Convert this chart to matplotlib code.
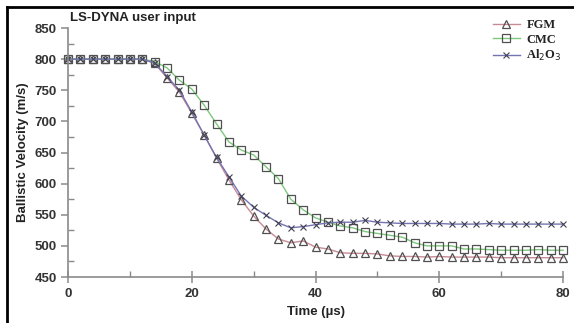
import matplotlib
matplotlib.use('Agg')
import matplotlib.pyplot as plt
from matplotlib.lines import Line2D
from matplotlib.ticker import MultipleLocator

# time in microseconds, one sample every 2 us
time_us = list(range(0, 82, 2))

fgm = [800, 800, 800, 800, 800, 800, 800, 793, 770, 747, 713, 678, 641,
       606, 574, 548, 527, 511, 505, 508, 498, 495, 489, 488, 488, 487,
       484, 483, 483, 482, 483, 482, 482, 482, 482, 481, 481, 481, 481, 481, 481]
cmc = [800, 800, 800, 800, 800, 800, 800, 796, 786, 766, 752, 726, 696,
       667, 654, 646, 627, 608, 575, 558, 545, 538, 532, 529, 523, 520,
       517, 514, 505, 500, 500, 500, 495, 495, 494, 493, 493, 493, 494, 493, 493]
al2o3 = [800, 800, 800, 800, 800, 800, 800, 794, 772, 750, 715, 678, 642,
         611, 580, 562, 549, 537, 529, 531, 534, 537, 538, 538, 541, 538,
         537, 536, 536, 536, 536, 535, 535, 535, 536, 535, 535, 535, 535, 535, 535]

series_names = ['FGM', 'CMC', 'Al$_2$O$_3$']

plt.rcParams['font.family'] = ['Liberation Sans', 'DejaVu Sans']

fig = plt.figure(figsize=(5.74, 3.23), dpi=100)
ax = fig.add_axes([0.1185, 0.1424, 0.8625, 0.7709])

edge = '#505050'
styles = [
    dict(color='#c88a94', lw=1.0, marker='^', ms=6, mfc='none', mec=edge, mew=0.9),
    dict(color='#7cc87c', lw=1.0, marker='s', ms=6, mfc='none', mec=edge, mew=0.9),
    dict(color='#7474b4', lw=1.0, marker='x', ms=4.5, mec='#404050', mew=0.8),
]
for vals, st in zip([fgm, cmc, al2o3], styles):
    ax.plot(time_us, vals, clip_on=False, **st)

ax.set_xlim(0, 80)
ax.set_ylim(450, 850)
ax.xaxis.set_major_locator(MultipleLocator(20))
ax.xaxis.set_minor_locator(MultipleLocator(10))
ax.yaxis.set_major_locator(MultipleLocator(50))
ax.yaxis.set_minor_locator(MultipleLocator(25))

for s in ['top', 'right']:
    ax.spines[s].set_visible(False)
for s in ['left', 'bottom']:
    ax.spines[s].set_color('#8a8a8a')
    ax.spines[s].set_linewidth(1.2)

ax.tick_params(axis='x', which='major', direction='inout', length=8,
               color='#8a8a8a', width=1.1, pad=4)
ax.tick_params(axis='x', which='minor', direction='in', length=4,
               color='#8a8a8a', width=1.0)
ax.tick_params(axis='y', which='major', direction='out', length=5,
               color='#8a8a8a', width=1.1, pad=3)
ax.tick_params(axis='y', which='minor', direction='in', length=4,
               color='#8a8a8a', width=1.0)
for lab in ax.get_xticklabels() + ax.get_yticklabels():
    lab.set_fontweight('bold')
    lab.set_fontsize(9.5)
    lab.set_color('#333333')

ax.set_xlabel('Time (µs)', fontsize=9.5, fontweight='bold', color='#222222',
              labelpad=4)
ax.set_ylabel('Ballistic Velocity (m/s)', fontsize=9.5, fontweight='bold',
              color='#222222', labelpad=4)
fig.text(70 / 574, 1 - 18 / 323, 'LS-DYNA user input', fontsize=9.5,
         fontweight='bold', color='#222222', va='center', ha='left')

handles = [Line2D([], [], **st) for st in styles]
leg = ax.legend(handles, series_names, loc='upper right',
                bbox_to_anchor=(1.02, 1.08), frameon=False,
                prop={'family': 'Liberation Serif', 'weight': 'bold', 'size': 9},
                handlelength=2.2, handletextpad=0.5, labelspacing=0.2)
for t in leg.get_texts():
    t.set_color('#222222')

# black frame along the left and top edge of the picture
fig.add_artist(Line2D([7 / 574, 7 / 574], [0, 1 - 7 / 323],
                      transform=fig.transFigure, color='black', lw=2))
fig.add_artist(Line2D([7 / 574, 1], [1 - 7 / 323, 1 - 7 / 323],
                      transform=fig.transFigure, color='black', lw=2))

fig.savefig('out.png', dpi=100)
